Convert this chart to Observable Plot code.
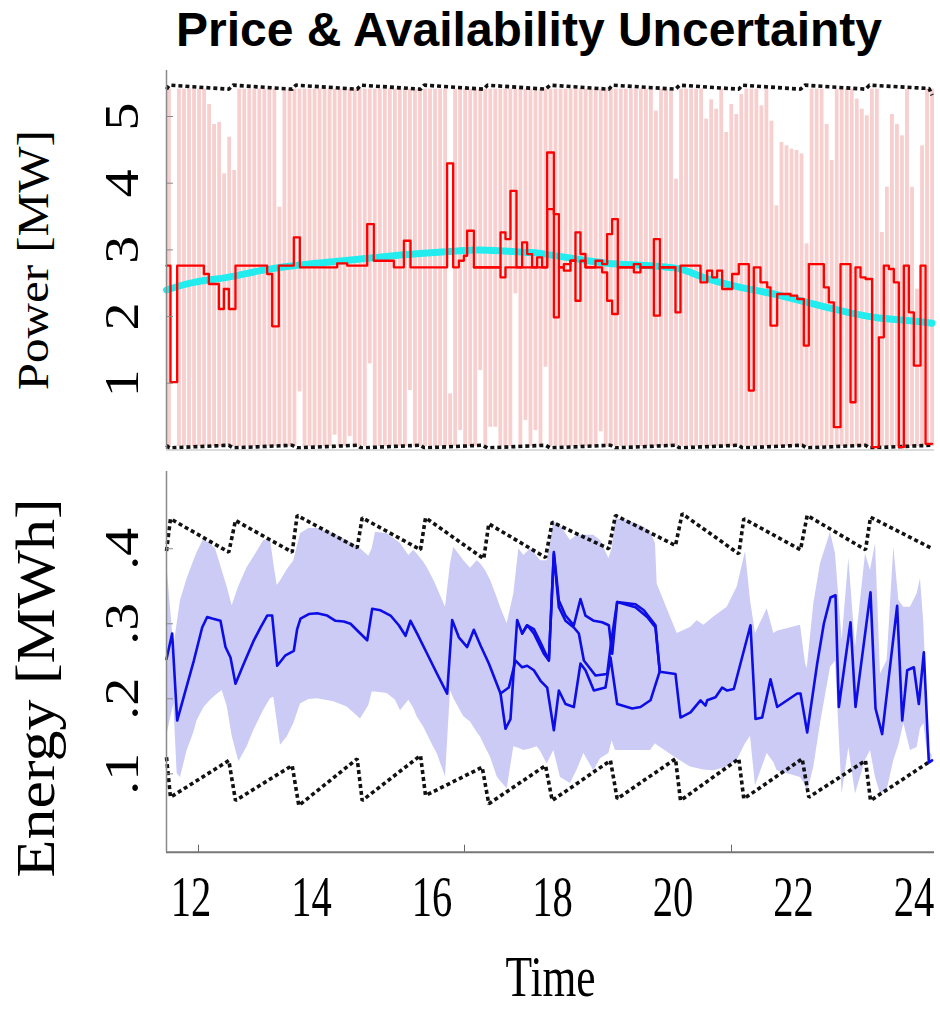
<!DOCTYPE html>
<html><head><meta charset="utf-8">
<script src="https://cdn.jsdelivr.net/npm/d3@7"></script>
<script src="https://cdn.jsdelivr.net/npm/@observablehq/plot@0.6"></script>
<style>
html,body{margin:0;padding:0;background:#fff;}
#root{position:relative;width:940px;height:1010px;overflow:hidden;background:#fff;}
#title{position:absolute;left:118px;top:2px;width:822px;text-align:center;font-family:"Liberation Sans",Arial,sans-serif;font-weight:bold;font-size:48px;line-height:1.15;color:#000;white-space:nowrap;}
#top{position:absolute;left:0;top:60px;}
#bottom{position:absolute;left:0;top:460px;}
</style></head><body>
<div id="root"><div id="title">Price &amp; Availability Uncertainty</div><div id="top"></div><div id="bottom"></div></div>
<script>
// ---------- data ----------
const xLabelTicks = [12, 14, 16, 18, 20, 22, 24];
const xTickMarks = [12.124, 16.539, 20.971];
const powerTicks = [1, 2, 3, 4, 5];
const energyTicks = [0.1, 0.2, 0.3, 0.4];

// availability interval per 5-minute slot, starting 11:36
const barStartHour = 11.6;
const barLo = [
0.05,0.05,0.05,0.05,0.05,0.05,0.05,0.05,0.05,0.05,
0.05,0.05,0.05,0.05,0.05,0.05,0.05,0.05,0.05,0.05,
0.05,0.05,0.05,0.05,0.05,0.05,0.87,0.05,0.05,0.05,
0.05,0.05,0.05,0.22,0.05,0.05,0.20,0.05,0.05,0.05,
1.29,0.05,0.05,0.05,0.05,0.05,0.05,0.05,0.89,0.05,
0.05,0.05,0.05,0.05,0.05,0.05,0.05,0.05,0.29,0.05,
0.05,0.05,1.19,0.05,0.34,0.34,0.05,0.05,0.05,2.34,
0.05,0.44,0.05,0.29,0.05,1.24,0.05,0.05,0.05,0.05,
0.05,0.05,0.05,0.05,0.05,0.05,0.27,0.05,0.05,0.05,
0.05,0.05,0.05,0.05,0.05,0.05,0.05,0.05,0.05,0.05,
0.05,0.05,0.05,0.05,0.05,0.05,0.05,0.05,0.05,0.05,
0.05,0.05,0.05,0.05,0.05,0.05,0.05,0.05,0.05,0.05,
0.05,0.05,0.05,0.05,0.05,0.05,0.05,0.05,0.05,0.05,
0.05,0.05,0.05,0.05,0.05,0.05,0.05,0.05,0.05,0.05,
0.05,0.05,0.05,0.05,0.05,0.05,0.05,0.05,0.05,0.05,
0.05,0.05,0.05];
const barHi = [
5.41,0.05,5.41,5.41,5.41,5.41,5.41,5.41,5.18,4.88,
4.91,4.14,4.69,4.19,5.41,5.41,5.41,5.41,5.41,5.41,
5.41,5.41,3.64,5.41,5.41,5.41,5.41,5.41,5.41,5.41,
5.41,5.41,5.41,5.41,5.41,5.41,5.41,5.41,5.41,5.41,
5.41,5.41,5.41,5.41,5.41,5.41,5.41,5.41,5.41,5.41,
5.41,5.41,5.41,5.41,5.41,5.41,0.84,5.41,5.41,5.41,
5.41,5.41,5.41,5.41,5.41,5.41,5.41,5.41,5.41,5.41,
5.41,5.41,5.41,5.41,5.41,5.41,5.41,5.41,5.41,5.41,
5.41,5.41,5.41,5.41,5.41,5.41,5.41,5.41,5.41,5.41,
5.41,5.41,5.41,5.41,5.41,5.41,5.41,5.08,5.41,5.41,
5.41,4.06,5.41,5.41,5.41,5.41,5.41,4.96,5.25,5.11,
5.41,4.76,5.18,5.03,5.33,5.41,5.41,5.41,5.16,5.41,
4.93,3.66,4.61,4.56,4.51,4.49,4.44,3.09,5.41,5.41,
5.41,4.88,4.34,5.41,5.41,5.41,5.41,5.26,5.11,5.01,
5.41,5.41,3.26,3.94,5.03,4.88,4.71,5.41,3.94,2.41,
4.56,5.41,5.41];

// power bounds (dotted)
const powerMax = [[11.593,5.41],[11.640,5.47],[12.627,5.41],[12.700,5.47],[13.679,5.41],[13.740,5.47],[14.758,5.41],[14.820,5.47],[15.809,5.41],[15.870,5.47],[16.859,5.41],[16.920,5.47],[17.884,5.41],[17.960,5.47],[18.934,5.41],[19.000,5.47],[20.041,5.41],[20.110,5.47],[21.092,5.41],[21.150,5.47],[22.116,5.41],[22.190,5.47],[23.195,5.41],[23.260,5.47],[24.250,5.42],[24.300,5.32]];
const powerMin = [[11.593,0.07],[11.640,0.03],[12.627,0.07],[12.700,0.03],[13.679,0.07],[13.760,0.03],[14.758,0.07],[14.820,0.03],[15.809,0.07],[15.870,0.03],[16.833,0.07],[16.920,0.03],[17.884,0.07],[17.960,0.03],[18.962,0.07],[19.040,0.03],[20.041,0.07],[20.110,0.03],[21.092,0.07],[21.150,0.03],[22.144,0.07],[22.220,0.03],[23.195,0.07],[23.260,0.03],[24.300,0.07]];

// price-driven forecast (cyan)
const forecast = [[11.593,2.398],[12.047,2.513],[12.600,2.588],[13.153,2.688],[13.706,2.763],[14.260,2.813],[14.813,2.862],[15.366,2.912],[15.919,2.952],[16.473,2.987],[16.749,2.997],[17.026,2.990],[17.579,2.962],[17.801,2.945],[18.354,2.870],[18.907,2.800],[19.460,2.770],[20.013,2.730],[20.290,2.663],[20.567,2.570],[21.120,2.438],[21.673,2.338],[22.227,2.213],[22.780,2.089],[23.333,1.989],[23.886,1.939],[24.300,1.900]];

// dispatched power (red steps)
const powerMain = [[11.593,2.763],[11.659,1.015],[11.770,2.763],[12.213,2.638],[12.296,2.488],[12.462,2.113],[12.545,2.413],[12.628,2.113],[12.738,2.763],[13.264,2.638],[13.347,1.854],[13.457,2.763],[13.706,3.187],[13.806,2.738],[14.426,2.797],[14.592,2.763],[14.924,3.387],[15.034,2.837],[15.366,2.738],[15.532,3.137],[15.643,2.738],[16.251,4.296],[16.351,2.738],[16.445,2.837],[16.528,2.912],[16.583,3.287],[16.694,2.738],[17.137,3.262],[17.219,3.162],[17.302,3.886],[17.402,2.738],[17.496,3.112],[17.579,2.937],[17.662,2.738],[17.745,2.887],[17.828,2.738],[17.911,4.460],[18.022,3.537],[18.105,2.738],[18.188,2.787],[18.298,2.837],[18.381,3.262],[18.464,2.938],[18.547,2.738],[18.713,2.837],[18.824,2.787],[18.907,3.237],[18.990,3.462],[19.084,2.738],[19.350,2.787],[19.460,2.738],[19.682,3.162],[19.781,2.738],[20.041,2.063],[20.124,2.763],[20.456,2.513],[20.567,2.688],[20.650,2.588],[20.733,2.688],[20.816,2.413],[20.982,2.638],[21.092,2.787],[21.258,0.890],[21.341,2.738],[21.452,2.513],[21.563,2.438],[21.618,1.864],[21.729,2.338],[21.950,2.313],[22.061,2.263],[22.171,1.564],[22.254,2.787],[22.503,2.438],[22.586,2.213],[22.669,0.341],[22.780,2.787],[22.946,0.715],[23.029,2.738],[23.112,2.588],[23.195,2.563],[23.305,0.041],[23.416,1.689],[23.499,2.763],[23.582,2.713],[23.665,2.513],[23.748,0.041],[23.831,2.763],[23.914,2.063],[23.997,1.264],[24.108,2.763],[24.191,0.091],[24.300,0.091]];
const powerAlt = [[16.694,2.738],[17.137,2.588],[17.219,2.738],[17.911,3.610],[18.022,1.989],[18.105,2.738],[18.188,2.688],[18.298,2.837],[18.381,2.237],[18.464,2.837],[18.547,2.738],[18.824,2.663],[18.907,2.237],[18.990,2.038],[19.084,2.738],[19.350,2.663],[19.460,2.738],[19.682,2.013],[19.781,2.738],[20.041,2.738]];

// energy bounds (dotted)
const energyMax = [[11.593,0.397],[11.659,0.440],[12.627,0.3955],[12.738,0.4377],[13.679,0.3955],[13.762,0.4444],[14.758,0.4013],[14.841,0.4413],[15.809,0.3987],[15.892,0.4413],[16.859,0.3867],[16.942,0.4333],[17.884,0.3884],[17.995,0.4355],[18.934,0.400],[19.045,0.4444],[20.041,0.4044],[20.152,0.4467],[21.092,0.3933],[21.175,0.440],[22.116,0.3987],[22.227,0.4444],[23.195,0.3987],[23.278,0.4421],[24.307,0.400]];
const energyMin = [[11.593,0.1221],[11.659,0.0688],[12.627,0.1177],[12.738,0.0644],[13.679,0.1111],[13.789,0.0577],[14.758,0.120],[14.841,0.0644],[15.809,0.1244],[15.892,0.0711],[16.833,0.1088],[16.942,0.060],[17.884,0.111],[17.995,0.0644],[18.962,0.1177],[19.073,0.0667],[20.041,0.120],[20.124,0.0644],[21.092,0.120],[21.175,0.0667],[22.144,0.120],[22.254,0.0688],[23.195,0.1177],[23.278,0.0644],[24.245,0.1155]];

// energy uncertainty band [time, low, high]
const energyBand = [[11.593,0.149,0.384],[11.650,0.170,0.330],[11.715,0.193,0.269],[11.770,0.100,0.300],[11.825,0.095,0.331],[11.936,0.131,0.360],[12.047,0.155,0.384],[12.102,0.171,0.395],[12.213,0.188,0.413],[12.323,0.198,0.406],[12.406,0.204,0.400],[12.517,0.211,0.371],[12.600,0.190,0.349],[12.683,0.150,0.324],[12.794,0.116,0.350],[12.932,0.136,0.375],[13.043,0.158,0.389],[13.208,0.185,0.411],[13.319,0.200,0.413],[13.374,0.202,0.380],[13.430,0.170,0.351],[13.485,0.138,0.357],[13.596,0.149,0.372],[13.706,0.167,0.384],[13.817,0.193,0.420],[13.955,0.199,0.427],[14.094,0.200,0.427],[14.370,0.196,0.420],[14.592,0.189,0.411],[14.813,0.173,0.400],[14.951,0.191,0.390],[15.007,0.209,0.400],[15.062,0.209,0.422],[15.256,0.207,0.420],[15.394,0.198,0.412],[15.477,0.184,0.407],[15.615,0.198,0.391],[15.698,0.187,0.398],[15.753,0.176,0.393],[15.864,0.162,0.382],[15.919,0.153,0.375],[16.030,0.135,0.358],[16.085,0.127,0.348],[16.224,0.096,0.322],[16.307,0.211,0.380],[16.362,0.200,0.402],[16.528,0.176,0.384],[16.639,0.169,0.374],[16.749,0.155,0.384],[16.805,0.149,0.380],[16.888,0.135,0.371],[16.971,0.122,0.358],[17.081,0.096,0.335],[17.137,0.090,0.322],[17.247,0.080,0.300],[17.358,0.136,0.340],[17.441,0.134,0.400],[17.524,0.131,0.391],[17.635,0.133,0.400],[17.745,0.136,0.390],[17.801,0.130,0.384],[17.911,0.113,0.384],[18.022,0.131,0.436],[18.132,0.095,0.431],[18.298,0.087,0.411],[18.409,0.105,0.418],[18.520,0.127,0.418],[18.686,0.104,0.418],[18.796,0.120,0.411],[18.935,0.127,0.387],[18.990,0.144,0.400],[19.045,0.131,0.440],[19.239,0.131,0.438],[19.516,0.131,0.429],[19.626,0.131,0.422],[19.709,0.140,0.407],[19.737,0.138,0.353],[20.069,0.120,0.287],[20.290,0.109,0.295],[20.401,0.107,0.304],[20.511,0.105,0.298],[20.677,0.104,0.309],[20.899,0.109,0.322],[21.065,0.118,0.349],[21.203,0.140,0.396],[21.286,0.150,0.331],[21.369,0.084,0.287],[21.563,0.127,0.320],[21.673,0.115,0.287],[21.729,0.104,0.290],[22.116,0.095,0.298],[22.199,0.085,0.247],[22.227,0.073,0.240],[22.337,0.109,0.327],[22.448,0.167,0.380],[22.614,0.242,0.422],[22.697,0.250,0.393],[22.807,0.073,0.278],[22.918,0.135,0.387],[23.029,0.073,0.269],[23.195,0.118,0.393],[23.278,0.131,0.371],[23.361,0.095,0.407],[23.444,0.073,0.233],[23.554,0.078,0.251],[23.665,0.118,0.402],[23.748,0.138,0.331],[23.831,0.167,0.322],[23.941,0.131,0.322],[24.052,0.135,0.340],[24.107,0.160,0.360],[24.163,0.167,0.300],[24.246,0.113,0.131],[24.300,0.118,0.125]];

// stored energy trajectories (blue)
const energyMain = [[11.593,0.253],[11.687,0.287],[11.770,0.171],[11.908,0.211],[12.047,0.251],[12.185,0.295],[12.268,0.309],[12.351,0.307],[12.489,0.304],[12.572,0.269],[12.655,0.255],[12.738,0.220],[12.877,0.247],[13.043,0.278],[13.153,0.295],[13.264,0.311],[13.347,0.311],[13.430,0.244],[13.568,0.258],[13.706,0.264],[13.762,0.293],[13.817,0.307],[13.955,0.313],[14.094,0.314],[14.260,0.311],[14.398,0.304],[14.536,0.303],[14.647,0.300],[14.785,0.289],[14.924,0.278],[15.007,0.320],[15.145,0.318],[15.311,0.311],[15.449,0.298],[15.560,0.284],[15.643,0.304],[15.753,0.287],[15.919,0.260],[16.085,0.233],[16.251,0.207],[16.334,0.305],[16.445,0.282],[16.583,0.269],[16.694,0.292],[16.805,0.271],[16.943,0.247],[17.137,0.207],[17.219,0.160],[17.302,0.173],[17.413,0.305],[17.496,0.287],[17.579,0.298],[17.690,0.293],[17.801,0.275],[17.939,0.251],[18.022,0.3955],[18.105,0.331],[18.215,0.311],[18.354,0.298],[18.464,0.333],[18.547,0.311],[18.686,0.304],[18.824,0.302],[18.935,0.298],[18.990,0.260],[19.073,0.329],[19.377,0.326],[19.516,0.318],[19.709,0.298],[19.781,0.236],[20.041,0.233],[20.124,0.175],[20.290,0.182],[20.456,0.198],[20.539,0.191],[20.567,0.198],[20.705,0.202],[20.816,0.215],[20.899,0.211],[21.009,0.213],[21.286,0.298],[21.369,0.173],[21.480,0.175],[21.618,0.226],[21.729,0.189],[22.061,0.207],[22.116,0.207],[22.227,0.155],[22.393,0.247],[22.503,0.300],[22.614,0.335],[22.697,0.338],[22.752,0.189],[22.946,0.302],[23.029,0.189],[23.278,0.342],[23.361,0.187],[23.471,0.153],[23.720,0.324],[23.804,0.171],[23.887,0.238],[23.997,0.242],[24.080,0.193],[24.163,0.262],[24.246,0.115],[24.300,0.118]];
const energyAltLow = [[17.137,0.207],[17.275,0.215],[17.386,0.251],[17.496,0.242],[17.579,0.244],[17.690,0.238],[17.801,0.224],[17.911,0.215],[18.022,0.158],[18.105,0.211],[18.215,0.193],[18.354,0.189],[18.464,0.247],[18.547,0.238],[18.686,0.211],[18.879,0.215],[18.962,0.255],[19.073,0.193],[19.322,0.187],[19.460,0.189],[19.626,0.198],[19.765,0.233],[19.781,0.236]];
const energyAltMid = [[17.496,0.287],[17.579,0.298],[17.690,0.287],[17.856,0.260],[17.939,0.251],[18.022,0.393],[18.105,0.322],[18.215,0.304],[18.354,0.295],[18.437,0.287],[18.520,0.251],[18.713,0.231],[18.907,0.233],[18.962,0.269],[19.073,0.329],[19.377,0.322],[19.571,0.309],[19.709,0.295],[19.781,0.236]];

// ---------- chart ----------
const xDomain = [11.593, 24.34];
const pDomain = [0, 5.69];
const eDomain = [-0.0045, 0.503];
const serif = "'Liberation Serif','Times New Roman',serif";
const dotted = {x: d => d[0], y: d => d[1], stroke: "#111", strokeWidth: 3.6, strokeDasharray: "4,3", strokeLinecap: "butt", strokeLinejoin: "miter"};
const axisGray = "#8a8a8a";
const blank = () => "";

const bars = barHi.map((hi, i) => ({t0: barStartHour + i / 12, t1: barStartHour + (i + 1) / 12, lo: barLo[i], hi}));

const topChart = Plot.plot({
  width: 940, height: 400,
  marginLeft: 166, marginRight: 6, marginTop: 10, marginBottom: 10.6,
  style: {fontFamily: serif, fontSize: "56px", background: "transparent", color: "#000"},
  x: {domain: xDomain, axis: null},
  y: {domain: pDomain},
  marks: [
    Plot.rect(bars, {x1: "t0", x2: "t1", y1: "lo", y2: "hi", fill: "#f8cfcf", insetLeft: 0.6, insetRight: 0.6}),
    Plot.line(powerMax, dotted),
    Plot.line(powerMin, dotted),
    Plot.line(forecast, {x: d => d[0], y: d => d[1], stroke: "#22ecee", strokeWidth: 7, curve: "natural", strokeLinecap: "round"}),
    Plot.line(powerAlt, {x: d => d[0], y: d => d[1], curve: "step-after", stroke: "#ff0000", strokeWidth: 2.3}),
    Plot.line(powerMain, {x: d => d[0], y: d => d[1], curve: "step-after", stroke: "#ff0000", strokeWidth: 2.3}),
    Plot.ruleX([xDomain[0]], {stroke: axisGray, strokeWidth: 1.5}),
    Plot.ruleY([pDomain[0]], {stroke: "#cfcfcf", strokeWidth: 1.5}),
    Plot.axisY(powerTicks, {tickSize: 7, dx: 7, stroke: axisGray, tickFormat: blank, label: null}),
    Plot.axisY(powerTicks, {tickSize: 0, tickPadding: 29, tickRotate: -90, tickFormat: d3.format("d"), label: "Power [MW]", labelAnchor: "center", labelOffset: 151, labelArrow: false})
  ]
});

const bottomChart = Plot.plot({
  width: 940, height: 550,
  marginLeft: 166, marginRight: 6, marginTop: 11, marginBottom: 158.3,
  style: {fontFamily: serif, fontSize: "56px", background: "transparent", color: "#000"},
  x: {domain: xDomain},
  y: {domain: eDomain},
  marks: [
    Plot.areaY(energyBand, {x: d => d[0], y1: d => d[1], y2: d => d[2], fill: "#cbcbf5"}),
    Plot.line(energyMax, dotted),
    Plot.line(energyMin, dotted),
    Plot.line(energyAltLow, {x: d => d[0], y: d => d[1], stroke: "#0d0de6", strokeWidth: 2.6}),
    Plot.line(energyAltMid, {x: d => d[0], y: d => d[1], stroke: "#0d0de6", strokeWidth: 2.6}),
    Plot.line(energyMain, {x: d => d[0], y: d => d[1], stroke: "#0d0de6", strokeWidth: 2.6}),
    Plot.ruleX([xDomain[0]], {stroke: axisGray, strokeWidth: 1.5}),
    Plot.ruleY([eDomain[0]], {stroke: "#777", strokeWidth: 2}),
    Plot.axisY(energyTicks, {tickSize: 7, dx: 7, stroke: axisGray, tickFormat: blank, label: null}),
    Plot.axisY(energyTicks, {tickSize: 0, tickPadding: 29, tickRotate: -90, tickFormat: d => d3.format(".1f")(d).slice(1), label: "Energy [MWh]", labelAnchor: "center", labelOffset: 151, labelArrow: false}),
    Plot.axisX(xTickMarks, {tickSize: 7, dy: -7, stroke: "#666", tickFormat: blank, label: null}),
    Plot.axisX(xLabelTicks, {tickSize: 0, tickPadding: 23, label: "Time", labelAnchor: "center", labelOffset: 144, labelArrow: false})
  ]
});

// condense the serif lettering horizontally, as in the original figure
function squeeze(svg, ariaLabel, sx, fontSize, shiftY = 0) {
  d3.select(svg).selectAll(`g[aria-label="${ariaLabel}"]`).each(function () {
    if (fontSize) { this.setAttribute("font-size", fontSize); this.style.fontSize = fontSize + "px"; }
    d3.select(this).selectAll("text").each(function () {
      const tr = this.getAttribute("transform") || "";
      if (/^translate\([^)]*\)/.test(tr)) this.setAttribute("transform", tr.replace(/^(translate\([^)]*\))/, `$1 translate(0,${shiftY}) scale(${sx},1)`));
    });
  });
}
squeeze(topChart, "y-axis tick label", 0.85, 56);
squeeze(topChart, "y-axis label", 0.92, 49);
squeeze(bottomChart, "y-axis tick label", 0.85, 56);
squeeze(bottomChart, "y-axis label", 0.88, 62, 26);
squeeze(bottomChart, "x-axis tick label", 0.7, 58);
squeeze(bottomChart, "x-axis label", 0.75, 58);

document.getElementById("top").appendChild(topChart);
document.getElementById("bottom").appendChild(bottomChart);
</script>
</body></html>
